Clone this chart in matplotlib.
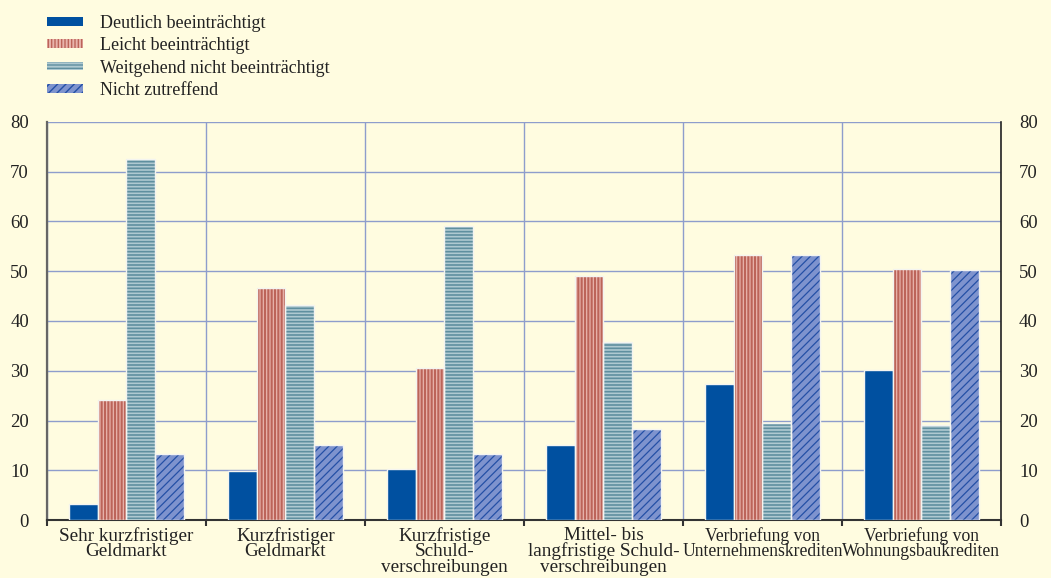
import matplotlib
matplotlib.use("Agg")
import matplotlib.pyplot as plt
import numpy as np
from matplotlib.patches import Patch

categories = ["Sehr kurzfristiger\nGeldmarkt", "Kurzfristiger\nGeldmarkt",
              "Kurzfristige\nSchuld-\nverschreibungen",
              "Mittel- bis\nlangfristige Schuld-\nverschreibungen",
              "Verbriefung von\nUnternehmenskrediten",
              "Verbriefung von\nWohnungsbaukrediten"]
series_names = ["Deutlich beeinträchtigt", "Leicht beeinträchtigt",
                "Weitgehend nicht beeinträchtigt", "Nicht zutreffend"]
deutlich = [3.3, 9.8, 10.2, 15.0, 27.3, 30.2]
leicht = [24.1, 46.6, 30.6, 49.0, 53.2, 50.5]
weitgehend = [72.6, 43.3, 59.0, 35.8, 19.5, 19.1]
nicht = [13.3, 15.1, 13.3, 18.3, 53.3, 50.2]
yticks = [0, 10, 20, 30, 40, 50, 60, 70, 80]

values = [deutlich, leicht, weitgehend, nicht]
faces = ["#0050A0", "#E8B4AC", "#AFC9D1", "#7E93CE"]
hatchcol = [None, "#BC6459", "#5F8F9F", "#2450A6"]
hatches = [None, "|||||", "-----", "////"]
hatchlw = [None, 1.5, 1.2, 0.9]

bg = "#FFFCE0"
grid = "#8E9DCC"
plt.rcParams["font.family"] = ["Liberation Serif", "DejaVu Serif"]

fig = plt.figure(figsize=(10.51, 5.78), dpi=100, facecolor=bg)
ax = fig.add_axes([0.0447, 0.1003, 0.9077, 0.6887], facecolor=bg)

x = np.arange(len(categories))
w = 0.18
offs = (np.arange(4) - 1.5) * w
for i in range(4):
    if hatches[i] is None:
        ax.bar(x + offs[i], values[i], w, color=faces[i], edgecolor="#F4F4F0",
               linewidth=1.0, zorder=3)
    else:
        with plt.rc_context({"hatch.linewidth": hatchlw[i]}):
            ax.bar(x + offs[i], values[i], w, color=faces[i], edgecolor=hatchcol[i],
                   hatch=hatches[i], linewidth=0, zorder=3)
        ax.bar(x + offs[i], values[i], w, fill=False, edgecolor="#F4F4F0",
               linewidth=1.0, zorder=4)

ax.set_xlim(-0.5, len(categories) - 0.5)
ax.set_ylim(0, 80)
ax.set_yticks(yticks)
ax.set_xticks(x)
labels = ax.set_xticklabels(categories, fontsize=13.8, color="#222222",
                            linespacing=0.88)
for lab in labels[4:]:
    lab.set_fontsize(12.7)
ax.set_xticks(np.arange(-0.5, len(categories)), minor=True)
ax.tick_params(axis="x", which="major", length=0, pad=5)
ax.tick_params(axis="x", which="minor", length=4, width=1.5, color="#333333",
               direction="out")
ax.tick_params(axis="y", length=0, labelsize=13.5, labelcolor="#222222",
               left=True, right=True, labelleft=True, labelright=True, pad=13)
ax.grid(axis="y", color=grid, linewidth=1.0, zorder=0)
ax.grid(axis="x", which="minor", color=grid, linewidth=1.0, zorder=0)
ax.spines["top"].set_visible(False)
ax.spines["left"].set_color("#666666")
ax.spines["left"].set_linewidth(1.6)
ax.spines["right"].set_color("#222222")
ax.spines["right"].set_linewidth(1.2)
ax.spines["bottom"].set_color("#333333")
ax.spines["bottom"].set_linewidth(1.5)

handles = []
for i in range(4):
    if hatches[i] is None:
        handles.append(Patch(facecolor=faces[i], edgecolor="none"))
    else:
        with plt.rc_context({"hatch.linewidth": hatchlw[i]}):
            handles.append(Patch(facecolor=faces[i], edgecolor=hatchcol[i],
                                 hatch=hatches[i], linewidth=0))
leg = fig.legend(handles, series_names, loc="upper left",
                 bbox_to_anchor=(0.038, 0.987), frameon=False, fontsize=13,
                 handlelength=2.0, handleheight=0.35, labelspacing=0.3,
                 handletextpad=0.9, borderaxespad=0)
for t in leg.get_texts():
    t.set_color("#222222")

fig.savefig("out.png", dpi=100, facecolor=bg)
